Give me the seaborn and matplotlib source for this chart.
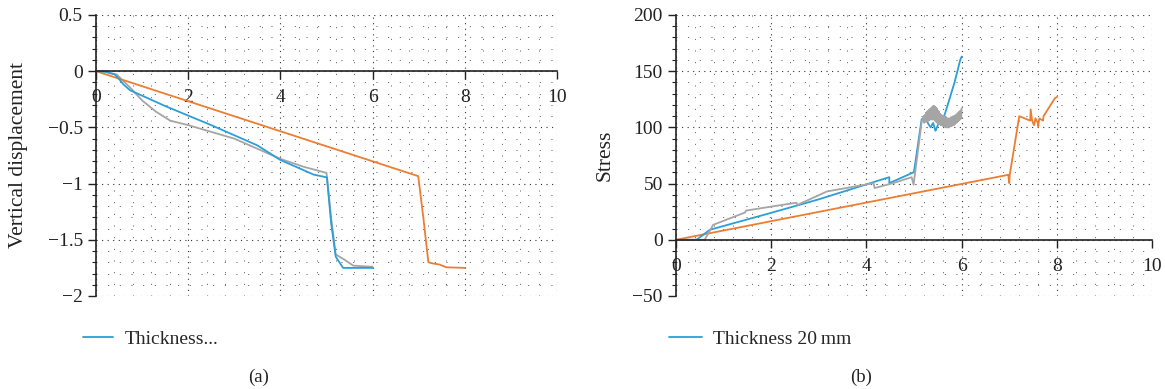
import numpy as np
import pandas as pd
import matplotlib.pyplot as plt
from matplotlib.lines import Line2D
from matplotlib.ticker import MultipleLocator
import seaborn as sns

# (a) vertical displacement vs x
disp_blue_x = [0, 0.2, 0.41, 0.5, 0.6, 0.74, 1.5, 2.5, 3.5, 4.0, 4.5, 4.72, 5.01, 5.1, 5.2, 5.36, 6.0]
disp_blue_y = [0, -0.005, -0.03, -0.07, -0.12, -0.17, -0.31, -0.48, -0.66, -0.79, -0.88, -0.92, -0.945, -1.35, -1.65, -1.75, -1.75]
disp_gray_x = [0, 0.2, 0.45, 0.6, 0.75, 1.0, 1.3, 1.61, 2.0, 3.0, 4.0, 4.5, 5.0, 5.1, 5.2, 5.4, 5.58, 6.0]
disp_gray_y = [0, -0.005, -0.03, -0.09, -0.15, -0.26, -0.36, -0.44, -0.48, -0.6, -0.78, -0.85, -0.905, -1.3, -1.63, -1.68, -1.73, -1.74]
disp_orange_x = [0, 6.99, 7.1, 7.21, 7.3, 7.45, 7.6, 8.0]
disp_orange_y = [0, -0.934, -1.3, -1.70, -1.71, -1.72, -1.745, -1.75]

# (b) stress vs x
stress_blue_x = [0, 0.43, 0.71, 2.0, 3.0, 4.48, 4.48, 4.99, 5.0, 5.16, 5.25, 5.3, 5.35, 5.4, 5.45, 5.47, 5.52, 5.64, 5.75, 5.85, 5.97, 6.0]
stress_blue_y = [0, 0, 8.9, 24, 36, 55.7, 50.4, 60, 61, 107.4, 108, 103, 100, 104, 97, 99, 104, 111, 126, 140, 160, 163]
stress_gray_x = [0, 0.6, 0.78, 1.45, 1.47, 2.53, 2.55, 3.17, 4.15, 4.17, 4.56, 4.95, 4.99, 5.16,
                 5.2, 5.2125, 5.225, 5.2375, 5.25, 5.2625, 5.275, 5.2875, 5.3, 5.3125, 5.325, 5.3375,
                 5.35, 5.3625, 5.375, 5.3875, 5.4, 5.4125, 5.425, 5.4375, 5.45, 5.4625, 5.475, 5.4875,
                 5.5, 5.5125, 5.525, 5.5375, 5.55, 5.5625, 5.575, 5.5875, 5.6, 5.6125, 5.625, 5.6375,
                 5.65, 5.6625, 5.675, 5.6875, 5.7, 5.7125, 5.725, 5.7375, 5.75, 5.7625, 5.775, 5.7875,
                 5.8, 5.8125, 5.825, 5.8375, 5.85, 5.8625, 5.875, 5.8875, 5.9, 5.9125, 5.925, 5.9375,
                 5.95, 5.9625, 5.975, 5.9875, 6.0]
stress_gray_y = [0, 0, 13.3, 24.3, 26, 33, 31, 43, 50.4, 46, 50.4, 55.7, 49, 105,
                 110, 104, 111, 105, 113, 105, 114, 106, 115, 106, 116, 107,
                 117, 107, 118, 107, 119, 107, 119, 106, 118, 105, 117, 104,
                 115, 103, 114, 103, 112, 102, 111, 102, 110, 101, 110, 101,
                 109, 100, 109, 100, 108, 100, 108, 100, 108, 101, 109, 101,
                 109, 102, 110, 102, 110, 103, 111, 104, 112, 105, 113, 106,
                 114, 107, 115, 108, 117]
stress_orange_x = [0, 6.98, 7.0, 7.01, 7.21, 7.44, 7.45, 7.48, 7.52, 7.55, 7.6, 7.61, 7.63, 7.71, 7.72, 7.96, 8.0]
stress_orange_y = [0, 57.8, 50.4, 57.8, 110, 106, 116, 106, 102, 108, 104, 101, 108, 106, 110, 126, 127]

c_blue = "#2A9FD8"
c_orange = "#ED7D31"
c_gray = "#A5A5A5"

sns.set_style("ticks")
plt.rcParams["font.family"] = ["Liberation Serif", "DejaVu Serif"]

fig = plt.figure(figsize=(11.65, 3.89), dpi=100)
ax1 = fig.add_axes([0.0824, 0.2391, 0.3957, 0.7224])
ax2 = fig.add_axes([0.5803, 0.2391, 0.4086, 0.7224])


def draw(ax, xs, ys, color):
    df = pd.DataFrame({"x": xs, "y": ys})
    sns.lineplot(data=df, x="x", y="y", sort=False, estimator=None, ax=ax, color=color, lw=1.3)


draw(ax1, disp_gray_x, disp_gray_y, c_gray)
draw(ax1, disp_orange_x, disp_orange_y, c_orange)
draw(ax1, disp_blue_x, disp_blue_y, c_blue)

draw(ax2, stress_orange_x, stress_orange_y, c_orange)
draw(ax2, stress_blue_x, stress_blue_y, c_blue)
draw(ax2, stress_gray_x, stress_gray_y, c_gray)


def style(ax, ylim, ymaj, ymin, ylabel):
    ax.set_xlim(0, 10)
    ax.set_ylim(*ylim)
    ax.xaxis.set_major_locator(MultipleLocator(2))
    ax.xaxis.set_minor_locator(MultipleLocator(0.4))
    ax.yaxis.set_major_locator(MultipleLocator(ymaj))
    ax.yaxis.set_minor_locator(MultipleLocator(ymin))
    ax.grid(which="major", color="#333333", linestyle=(0, (1, 4)), lw=0.8)
    ax.grid(which="minor", color="#555555", linestyle=(0, (1, 11)), lw=0.7)
    ax.set_axisbelow(True)
    for s in ["top", "right"]:
        ax.spines[s].set_visible(False)
    ax.spines["bottom"].set_position(("data", 0))
    ax.spines["bottom"].set_linewidth(1.2)
    ax.spines["left"].set_linewidth(1.2)
    ax.spines["bottom"].set_color("#222222")
    ax.spines["left"].set_color("#222222")
    ax.tick_params(axis="both", which="major", length=6, width=1, labelsize=14, colors="#222222")
    ax.tick_params(axis="x", which="major", pad=7)
    ax.tick_params(axis="x", which="minor", length=0)
    ax.tick_params(axis="y", which="minor", length=3, width=0.8, colors="#222222")
    ax.set_xlabel("")
    ax.set_ylabel(ylabel, fontsize=15.5, color="#222222")


style(ax1, (-2, 0.5), 0.5, 0.1, "Vertical displacement")
style(ax2, (-50, 200), 50, 10, "Stress")
ax1.set_yticks([0.5, 0, -0.5, -1, -1.5, -2])
ax1.set_yticklabels(["0.5", "0", "\u22120.5", "\u22121", "\u22121.5", "\u22122"])
ax2.set_yticks([200, 150, 100, 50, 0, -50])
ax2.set_yticklabels(["200", "150", "100", "50", "0", "\u221250"])
ax1.yaxis.set_label_coords(-0.148, 0.5)
ax2.yaxis.set_label_coords(-0.13, 0.5)

h = Line2D([], [], color=c_blue, lw=1.3)
fig.legend(handles=[h], labels=["Thickness..."], loc="center left",
           bbox_to_anchor=(0.0562, 0.128), frameon=False, fontsize=14,
           handlelength=1.55, handletextpad=0.6)
fig.legend(handles=[h], labels=["Thickness 20\u2009mm"], loc="center left",
           bbox_to_anchor=(0.559, 0.128), frameon=False, fontsize=14,
           handlelength=1.7, handletextpad=0.6)

fig.text(259 / 1165, 1 - 377 / 389, "(a)", ha="center", va="center", fontsize=13.5, color="#222222")
fig.text(861 / 1165, 1 - 377 / 389, "(b)", ha="center", va="center", fontsize=13.5, color="#222222")

fig.savefig("out.png", dpi=100)
